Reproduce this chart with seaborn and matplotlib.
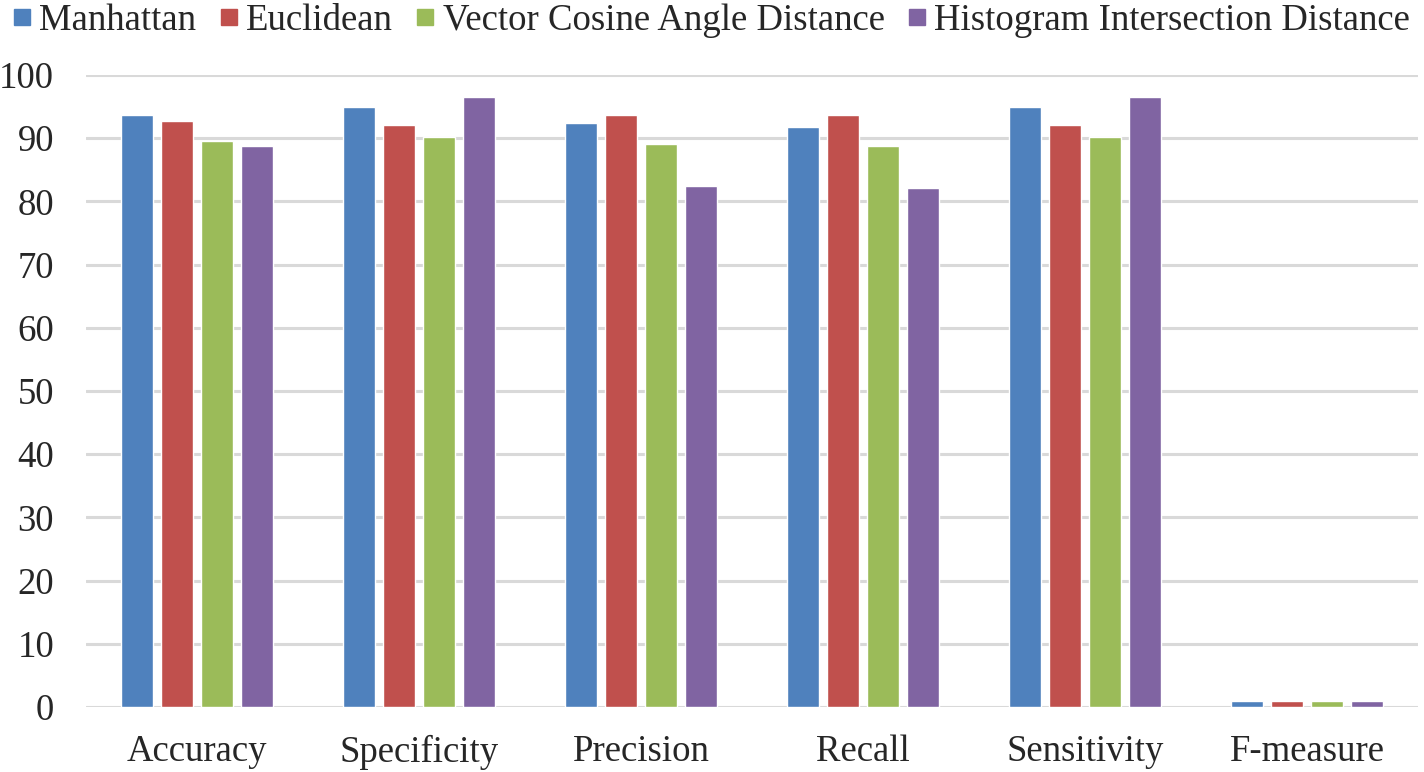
import pandas as pd
import matplotlib
matplotlib.use("Agg")
import matplotlib.pyplot as plt
import seaborn as sns
from matplotlib.lines import Line2D

# metric categories on the x axis
metrics = ["Accuracy", "Specificity", "Precision", "Recall", "Sensitivity", "F-measure"]
methods = ["Manhattan", "Euclidean", "Vector Cosine Angle Distance",
           "Histogram Intersection Distance"]

# values
manhattan = [93.6, 94.9, 92.4, 91.8, 94.9, 0.9]
euclidean = [92.8, 92.05, 93.6, 93.6, 92.05, 0.9]
cosine = [89.6, 90.15, 89.05, 88.7, 90.15, 0.9]
hist_inter = [88.8, 96.5, 82.4, 82.1, 96.5, 0.9]

colors = ["#4F81BD", "#C0504D", "#9BBB59", "#8064A2"]


def build_frame():
    rows = []
    for name, vals in zip(methods, [manhattan, euclidean, cosine, hist_inter]):
        for m, v in zip(metrics, vals):
            rows.append({"Metric": m, "Method": name, "Value": v})
    return pd.DataFrame(rows)


df = build_frame()

sns.set_style("white")
plt.rcParams["font.family"] = ["Liberation Serif", "DejaVu Serif"]

fig = plt.figure(figsize=(14.24, 7.72), dpi=100)
ax = fig.add_axes([86 / 1424, 65 / 772, (1418 - 86) / 1424, (707 - 75) / 772])

sns.barplot(data=df, x="Metric", y="Value", hue="Method", order=metrics,
            hue_order=methods, palette=colors, width=0.72, gap=0.2,
            saturation=1, errorbar=None, legend=False, ax=ax)

ax.set_ylim(0, 100)
ax.set_yticks(range(0, 101, 10))
ax.set_xlim(-0.5, len(metrics) - 0.5)
ax.yaxis.grid(True, color="#d9d9d9", linewidth=2.2)
ax.set_axisbelow(True)
for s in ax.spines.values():
    s.set_visible(False)
ax.tick_params(axis="y", length=0, pad=23, labelsize=26.5)
ax.tick_params(axis="x", length=0, pad=20, labelsize=26.5)
ax.set_xlabel("")
ax.set_ylabel("")

handles = [Line2D([], [], marker="s", linestyle="", markersize=11.5,
                  markerfacecolor=c, markeredgecolor=c) for c in colors]
fig.legend(handles, methods, loc="center", bbox_to_anchor=(0.5, 1 - 21 / 772),
           ncol=4, frameon=False, fontsize=26.5, handletextpad=0.25,
           columnspacing=0.65, handlelength=0.45, borderaxespad=0,
           borderpad=0)

fig.savefig("out.png", dpi=100)
